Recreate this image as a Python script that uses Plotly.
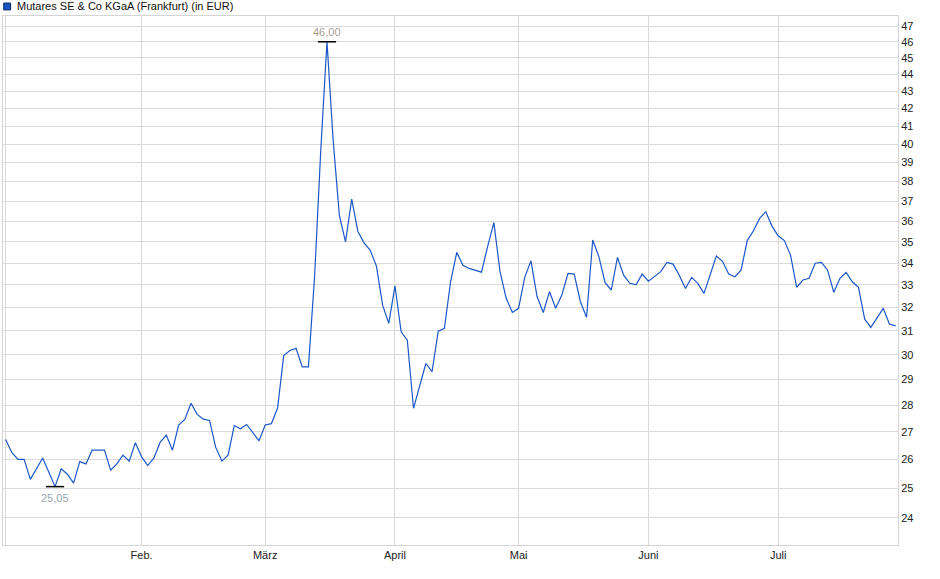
import math
import pandas as pd
import plotly.graph_objects as go

# Trading days (Frankfurt, 2025) shown on the chart
holidays = ["2025-04-18", "2025-04-21", "2025-05-01"]
dates = [d.strftime("%Y-%m-%d") for d in pd.bdate_range("2025-01-02", "2025-07-28")
         if d.strftime("%Y-%m-%d") not in holidays]

prices = [
    26.72, 26.25, 26.00, 26.00, 25.30, 25.65, 26.05, 25.55, 25.05, 25.67,
    25.48, 25.17, 25.92, 25.84, 26.33, 26.33, 26.33, 25.62, 25.84, 26.15,
    25.94, 26.60, 26.09, 25.78, 26.05, 26.61, 26.88, 26.33, 27.25, 27.46,
    28.07, 27.65, 27.47, 27.42, 26.43, 25.94, 26.15, 27.23, 27.11, 27.27,
    26.98, 26.67, 27.25, 27.30, 27.88, 29.96, 30.17, 30.26, 29.50, 29.50,
    33.40, 39.70, 46.00, 40.20, 36.30, 35.00, 37.10, 35.50, 34.95, 34.60,
    33.86, 32.10, 31.31, 32.96, 30.95, 30.60, 27.88, 28.71, 29.64, 29.31,
    30.98, 31.10, 33.14, 34.50, 33.90, 33.75, 33.67, 33.58, 34.78, 35.93,
    33.60, 32.40, 31.78, 31.96, 33.34, 34.10, 32.47, 31.78, 32.70, 31.96,
    32.55, 33.52, 33.49, 32.25, 31.57, 35.09, 34.29, 33.10, 32.77, 34.26,
    33.44, 33.07, 33.00, 33.49, 33.17, 33.37, 33.60, 34.03, 33.95, 33.44,
    32.84, 33.34, 33.07, 32.62, 33.49, 34.33, 34.08, 33.49, 33.37, 33.67,
    35.06, 35.53, 36.14, 36.47, 35.76, 35.29, 35.06, 34.37, 32.89, 33.22,
    33.30, 33.99, 34.03, 33.67, 32.67, 33.30, 33.57, 33.14, 32.89, 31.49,
    31.14, 31.52, 31.96, 31.28, 31.20,
]

month_ticks = ["2025-01-02", "2025-02-03", "2025-03-03", "2025-04-01",
               "2025-05-02", "2025-06-02", "2025-07-01"]
month_labels = ["", "Feb.", "März", "April", "Mai", "Juni", "Juli"]
y_ticks = list(range(24, 48))

title = "Mutares SE & Co KGaA (Frankfurt) (in EUR)"
FONT = "Liberation Sans, Arial, sans-serif"
LINE = "#1c57c8"

i_max = prices.index(max(prices))
i_min = prices.index(min(prices))

fig = go.Figure()
fig.add_trace(go.Scatter(x=dates, y=prices, mode="lines",
                         line=dict(color=LINE, width=1.2),
                         showlegend=False, hoverinfo="x+y"))
fig.add_trace(go.Scatter(x=[dates[i_max], dates[i_min]],
                         y=[prices[i_max], prices[i_min]],
                         mode="markers",
                         marker=dict(symbol="line-ew", size=13,
                                     line=dict(color="#000000", width=1.5)),
                         showlegend=False, hoverinfo="skip"))

def fmt(v):
    return f"{v:.2f}".replace(".", ",")

fig.add_annotation(x=dates[i_max], y=math.log10(prices[i_max]), text=fmt(prices[i_max]),
                   showarrow=False, yshift=10,
                   font=dict(family=FONT, size=11, color="#a79e93"))
fig.add_annotation(x=dates[i_min], y=math.log10(prices[i_min]), text=fmt(prices[i_min]),
                   showarrow=False, yshift=-11,
                   font=dict(family=FONT, size=11, color="#97a4b3"))

# legend-like header
fig.add_shape(type="rect", xref="paper", yref="paper",
              x0=0.0008, x1=0.0085, y0=1.0115, y1=1.0245,
              fillcolor="#1a55c4", line=dict(color="#0b2a66", width=1))
fig.add_annotation(xref="paper", yref="paper", x=0.0137, y=1.0185,
                   xanchor="left", yanchor="middle", showarrow=False,
                   text=title, font=dict(family=FONT, size=11, color="#111111"))

fig.update_layout(
    width=940, height=579,
    margin=dict(l=3, r=42, t=16, b=34),
    paper_bgcolor="white", plot_bgcolor="white",
    font=dict(family=FONT, size=11, color="#222222"),
    showlegend=False,
)
fig.update_xaxes(
    type="category", categoryorder="array", categoryarray=dates,
    range=[-0.42, 144.39],
    tickmode="array", tickvals=month_ticks, ticktext=month_labels,
    showgrid=True, gridcolor="#dadada", gridwidth=1,
    showline=True, linecolor="#d4d4d4", linewidth=1, mirror=True,
    ticks="", tickfont=dict(family=FONT, size=11, color="#222222"),
    zeroline=False,
)
fig.update_yaxes(
    type="log", range=[math.log10(23.13), math.log10(47.65)],
    side="right", tickmode="array", tickvals=y_ticks,
    ticktext=[str(v) for v in y_ticks],
    showgrid=True, gridcolor="#dadada", gridwidth=1,
    showline=True, linecolor="#d4d4d4", linewidth=1, mirror=True,
    ticks="", tickfont=dict(family=FONT, size=11, color="#222222"),
    zeroline=False,
)

fig.write_html("out.html", config={"displayModeBar": False},
               post_script="document.body.style.margin='0px';document.body.style.overflow='hidden';")
